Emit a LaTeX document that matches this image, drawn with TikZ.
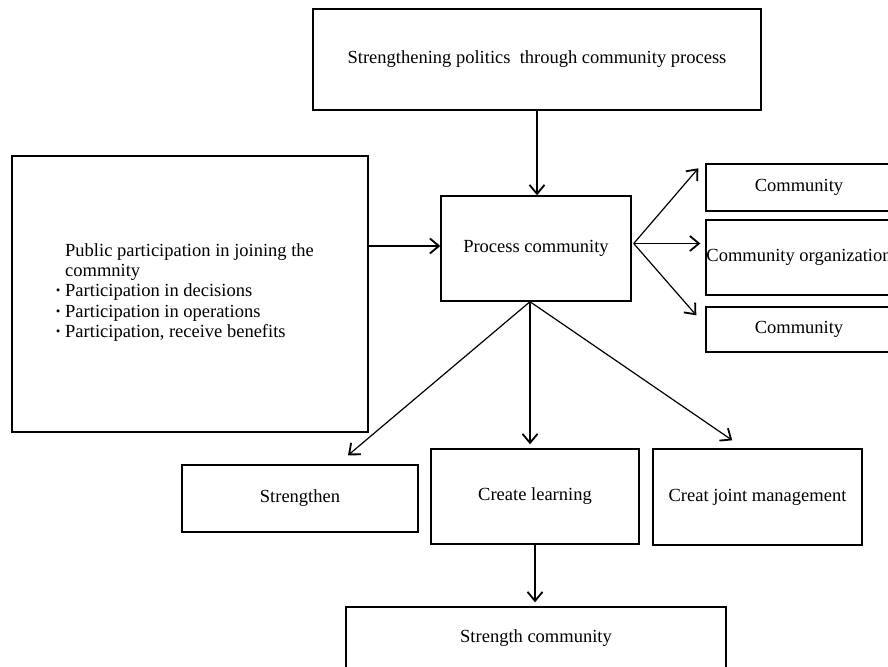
\documentclass[tikz,border=0pt]{standalone}
\usepackage{fontspec}
\setmainfont{Liberation Serif}
\usetikzlibrary{arrows.meta,calc}
\newcommand{\diagfont}{\fontsize{18.5bp}{20.25bp}\selectfont}
\begin{document}
\begin{tikzpicture}[x=1bp,y=-1bp,
  box/.style={draw,line width=1.4bp,inner sep=0pt,align=center,font=\diagfont},
  txt/.style={inner sep=0pt,align=left,font=\diagfont},
  arr/.style={line width=1.2bp,-{Straight Barb[length=9bp,width=15bp,line width=1.8bp]}}]
\useasboundingbox (0,0) rectangle (888,667);
% boxes
\node[box,minimum width=448bp,minimum height=101bp] (top) at (537,59.5) {Strengthening politics\ \ through community process};
\node[box,minimum width=356bp,minimum height=276bp] (left) at (190,294) {};
\node[txt,anchor=west] (lefttext) at (55,292.5) {\hspace*{10bp}Public participation in joining the\\
\hspace*{10bp}commnity\\
\makebox[10bp][l]{\textbf{·}}Participation in decisions\\
\makebox[10bp][l]{\textbf{·}}Participation in operations\\
\makebox[10bp][l]{\textbf{·}}Participation, receive benefits};
\node[box,minimum width=190bp,minimum height=105bp] (proc) at (536,248.5) {Process community};
\node[box,minimum width=186bp,minimum height=47bp] (c1) at (799,187.5) {Community};
\node[box,minimum width=186bp,minimum height=75bp] (c2) at (799,257.5) {Community organization};
\node[box,minimum width=186bp,minimum height=45bp] (c3) at (799,329.5) {Community};
\node[box,minimum width=236bp,minimum height=67bp] (st) at (300,498.5) {Strengthen};
\node[box,minimum width=208bp,minimum height=95bp] (cl) at (535,496.5) {Create learning};
\node[box,minimum width=209bp,minimum height=96bp] (jm) at (757.5,497) {Creat joint management};
\node[box,minimum width=380bp,minimum height=62bp] (sc) at (536,638) {Strength community};
% connectors
\draw[arr] (top.south) -- (top.south |- proc.north);
\coordinate (pw) at ($(proc.west)+(0,-2.5)$);
\draw[arr] (pw -| left.east) -- (pw);
\coordinate (pe) at ($(proc.east)+(2,-5)$);
\draw[arr] (pe) -- ($(c1.north west)+(-7,5)$);
\draw[arr] (pe) -- ($(pe -| c2.west)+(-5,0)$);
\draw[arr] (pe) -- ($(c3.north west)+(-9,9)$);
\coordinate (ps) at ($(proc.south)+(-6,0)$);
\draw[arr] (ps) -- ($(st.north)+(48,-9)$);
\draw[arr] (ps) -- ($(ps |- cl.north)+(0,-4)$);
\draw[arr] (ps) -- ($(jm.north west)+(80,-8)$);
\draw[arr] (cl.south) -- ($(cl.south |- sc.north)+(0,-4)$);
\end{tikzpicture}
\end{document}
